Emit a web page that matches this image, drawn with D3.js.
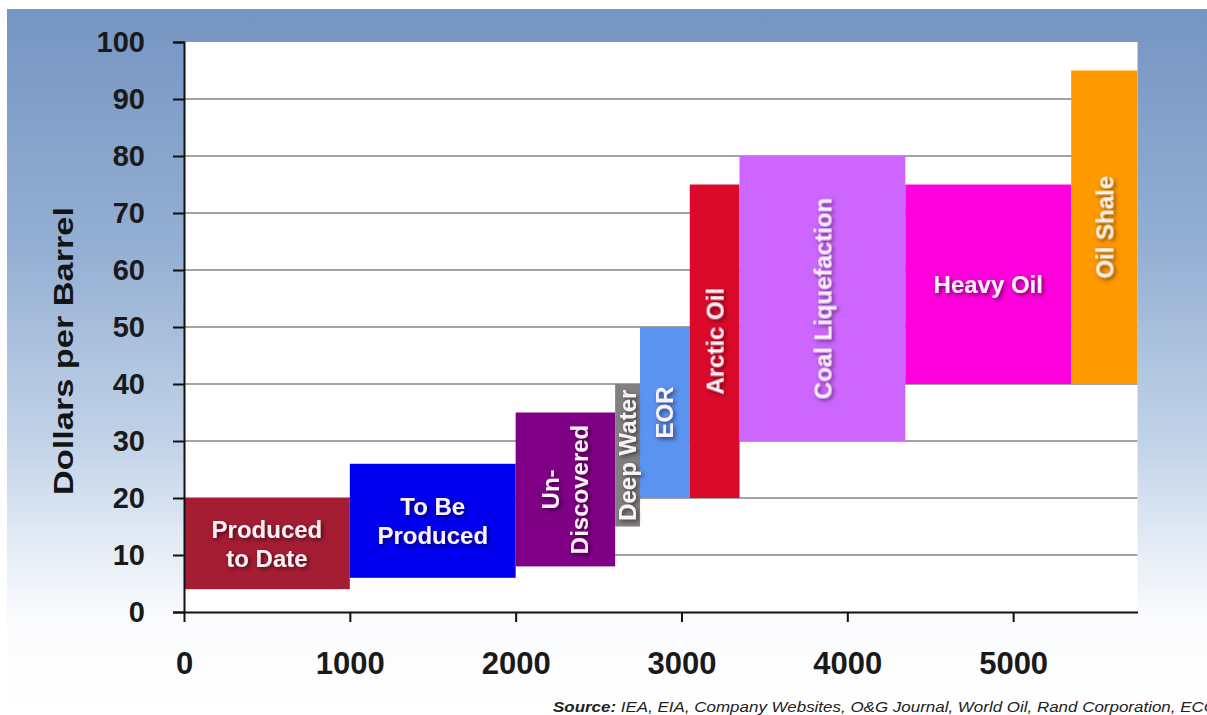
<!DOCTYPE html>
<html>
<head>
<meta charset="utf-8">
<script src="https://cdn.jsdelivr.net/npm/d3@7"></script>
<style>
  html, body { margin: 0; padding: 0; background: #ffffff; }
  svg { display: block; }
</style>
</head>
<body>
<script>
// Oil supply cost curve: each resource is a block spanning its volume
// (billion barrels, cumulative) and its production cost range ($/bbl).
const categories = ["Produced to Date", "To Be Produced", "Un-Discovered", "Deep Water",
  "EOR", "Arctic Oil", "Coal Liquefaction", "Heavy Oil", "Oil Shale"];
const labelLines = [["Produced", "to Date"], ["To Be", "Produced"], ["Un-", "Discovered"],
  ["Deep Water"], ["EOR"], ["Arctic Oil"], ["Coal Liquefaction"], ["Heavy Oil"], ["Oil Shale"]];
const volumeStart = [0, 1000, 2000, 2600, 2750, 3050, 3350, 4350, 5350];
const volumeEnd   = [1000, 2000, 2600, 2750, 3050, 3350, 4350, 5350, 5750];
const costLow  = [4, 6, 8, 15, 20, 20, 30, 40, 40];
const costHigh = [20, 26, 35, 40, 50, 75, 80, 75, 95];
const xTicks = [0, 1000, 2000, 3000, 4000, 5000];
const yTicks = [0, 10, 20, 30, 40, 50, 60, 70, 80, 90, 100];

const palette = ["#a51d33", "#0000ee", "#7f0085", "#808080", "#5b93f0",
  "#dc0a2a", "#cc66ff", "#ff00dc", "#ff9900"];
const rotated = [false, false, true, true, true, true, true, false, true];

const W = 1207, H = 715;
const svg = d3.select("body").append("svg").attr("width", W).attr("height", H);
const defs = svg.append("defs");

const bg = defs.append("linearGradient").attr("id", "bgGrad")
  .attr("x1", 0).attr("y1", 0).attr("x2", 0).attr("y2", 1);
[[0, "#7595c2"], [0.34, "#94afd3"], [0.62, "#c3d4e9"], [0.77, "#e6edf6"],
 [0.86, "#fafbfd"], [1, "#ffffff"]].forEach(([o, c]) =>
  bg.append("stop").attr("offset", o).attr("stop-color", c));

const shadow = defs.append("filter").attr("id", "txtShadow")
  .attr("x", "-20%").attr("y", "-40%").attr("width", "140%").attr("height", "180%");
shadow.append("feDropShadow").attr("dx", 2).attr("dy", 2).attr("stdDeviation", 2)
  .attr("flood-color", "#000").attr("flood-opacity", 0.55);

svg.append("rect").attr("x", 7).attr("y", 9).attr("width", W - 7).attr("height", H - 9)
  .attr("fill", "url(#bgGrad)");

const x = d3.scaleLinear().domain([0, 5750]).range([184, 1137.5]);
const y = d3.scaleLinear().domain([0, 100]).range([612, 42]);

// plot area
svg.append("rect").attr("x", x(0)).attr("y", y(100))
  .attr("width", x(5750) - x(0)).attr("height", y(0) - y(100)).attr("fill", "#ffffff");

// horizontal gridlines
svg.append("g").selectAll("line").data(yTicks.filter(t => t > 0 && t < 100)).join("line")
  .attr("x1", x(0)).attr("x2", x(5750))
  .attr("y1", d => y(d)).attr("y2", d => y(d))
  .attr("stroke", "#a3a3a3").attr("stroke-width", 1.8);

// cost blocks
const idx = d3.range(categories.length);
svg.append("g").selectAll("rect").data(idx).join("rect")
  .attr("x", i => x(volumeStart[i]))
  .attr("y", i => y(costHigh[i]))
  .attr("width", i => x(volumeEnd[i]) - x(volumeStart[i]))
  .attr("height", i => y(costLow[i]) - y(costHigh[i]))
  .attr("fill", i => palette[i]);

// block labels
const fs = 24, lh = 29, capHalf = fs * 0.716 / 2;
const lbl = svg.append("g")
  .attr("font-family", "'Liberation Sans', Arial, sans-serif")
  .attr("font-weight", "bold").attr("font-size", fs)
  .attr("fill", "#fbf1f6").attr("filter", "url(#txtShadow)");
idx.forEach(i => {
  const cx = (x(volumeStart[i]) + x(volumeEnd[i])) / 2;
  const cy = (y(costLow[i]) + y(costHigh[i])) / 2;
  const t = lbl.append("text").attr("text-anchor", "middle")
    .attr("transform", rotated[i] ? `translate(${cx},${cy}) rotate(-90)` : `translate(${cx},${cy})`);
  const n = labelLines[i].length;
  labelLines[i].forEach((line, k) => {
    t.append("tspan").attr("x", 0).attr("y", (k - (n - 1) / 2) * lh + capHalf).text(line);
  });
});

// axes
const yAxis = d3.axisLeft(y).tickValues(yTicks).tickSize(11).tickPadding(28).tickFormat(d3.format("d"));
const gy = svg.append("g").attr("transform", `translate(${x(0)},0)`).call(yAxis);
gy.select(".domain").attr("stroke", "#111").attr("stroke-width", 2);
gy.selectAll(".tick line").attr("stroke", "#111").attr("stroke-width", 2);
gy.selectAll(".tick text").attr("font-family", "'Liberation Sans', Arial, sans-serif")
  .attr("font-weight", "bold").attr("font-size", 29).attr("fill", "#1a1a1a");

const xAxis = d3.axisBottom(x).tickValues(xTicks).tickSize(10).tickSizeOuter(0)
  .tickPadding(30).tickFormat(d3.format("d"));
const gx = svg.append("g").attr("transform", `translate(0,${y(0)})`).call(xAxis);
gx.select(".domain").attr("stroke", "#111").attr("stroke-width", 2.2);
gx.selectAll(".tick line").attr("stroke", "#111").attr("stroke-width", 2);
gx.selectAll(".tick text").attr("font-family", "'Liberation Sans', Arial, sans-serif")
  .attr("font-weight", "bold").attr("font-size", 31).attr("fill", "#1a1a1a");

// y-axis title
svg.append("text")
  .attr("transform", "translate(73,351) rotate(-90)")
  .attr("text-anchor", "middle")
  .attr("font-family", "'Liberation Sans', Arial, sans-serif")
  .attr("font-weight", "bold").attr("font-size", 28).attr("fill", "#141414")
  .attr("textLength", 288).attr("lengthAdjust", "spacingAndGlyphs")
  .text("Dollars per Barrel");

// source line
const src = svg.append("text").attr("x", 553).attr("y", 712)
  .attr("font-family", "'Liberation Sans', Arial, sans-serif")
  .attr("font-style", "italic").attr("font-size", 14).attr("fill", "#222")
  .attr("textLength", 663).attr("lengthAdjust", "spacingAndGlyphs");
src.append("tspan").attr("font-weight", "bold").text("Source:");
src.append("tspan").text(" IEA, EIA, Company Websites, O&G Journal, World Oil, Rand Corporation, ECC");
</script>
</body>
</html>
